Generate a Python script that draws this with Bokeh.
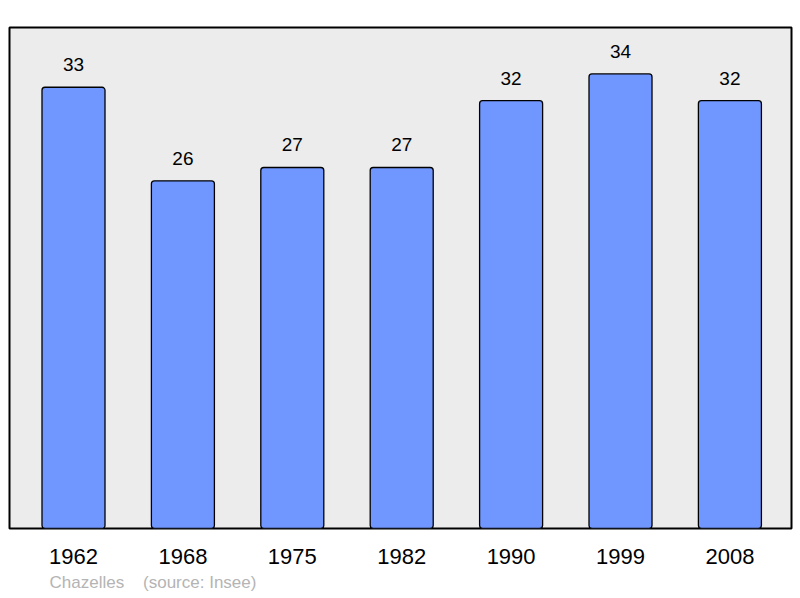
from bokeh.plotting import figure
from bokeh.models import ColumnDataSource, FixedTicker, Range1d, LabelSet, Title
from bokeh.embed import file_html
from bokeh.resources import INLINE
from bokeh.core.properties import value

years = ["1962", "1968", "1975", "1982", "1990", "1999", "2008"]
population = [33, 26, 27, 27, 32, 34, 32]
commune = "Chazelles"
source_note = "(source: Insee)"

xs = list(range(len(years)))
src = ColumnDataSource(dict(x=xs, top=population, label=[str(v) for v in population]))

p = figure(width=800, height=598, output_backend="svg", toolbar_location=None,
           x_range=Range1d(-0.585, 6.563), y_range=Range1d(0, 37.47),
           min_border_left=9, min_border_right=9, min_border_top=27, min_border_bottom=70)
p.background_fill_color = "#ececec"
p.border_fill_color = "white"
p.outline_line_color = "black"
p.outline_line_width = 2
p.xgrid.visible = False
p.ygrid.visible = False
p.yaxis.visible = False

p.vbar(x="x", top="top", bottom=0, width=0.576, source=src,
       fill_color="#7096ff", line_color="black", line_width=1.3, border_radius=3)

labels = LabelSet(x="x", y="top", text="label", source=src, text_align="center",
                  text_baseline="alphabetic", y_offset=16, text_font_size="19px",
                  text_font=value("Liberation Sans"), text_color="black")
p.add_layout(labels)

ax = p.xaxis[0]
ax.ticker = FixedTicker(ticks=xs)
ax.major_label_overrides = {i: y for i, y in enumerate(years)}
ax.axis_line_color = None
ax.major_tick_line_color = None
ax.minor_tick_line_color = None
ax.major_tick_out = 0
ax.major_tick_in = 0
ax.major_label_standoff = 20
ax.major_label_text_font_size = "22px"
ax.major_label_text_font = "Liberation Sans"
ax.major_label_text_color = "black"

footer = Title(text=commune + "\u00a0" * 4 + source_note, align="left", offset=40,
               text_font_size="17px", text_font="Liberation Sans",
               text_font_style="normal", text_color="#b4b4b4", standoff=9)
p.add_layout(footer, "below")

open("out.html", "w").write(file_html(p, INLINE))
